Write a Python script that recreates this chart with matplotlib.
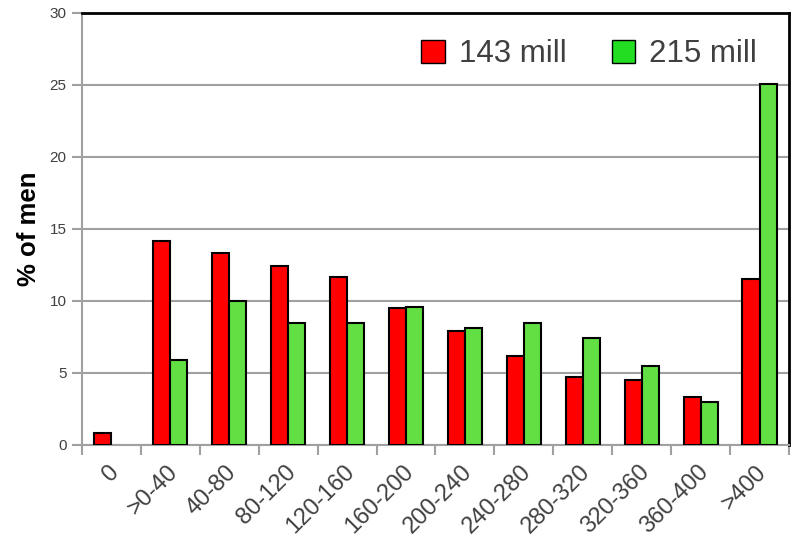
import matplotlib
matplotlib.use("Agg")
import matplotlib.pyplot as plt
import matplotlib.transforms as mtransforms
import numpy as np
from matplotlib.patches import Patch

plt.rcParams['font.family'] = ['Liberation Sans', 'DejaVu Sans']

categories = ["0", ">0-40", "40-80", "80-120", "120-160", "160-200",
              "200-240", "240-280", "280-320", "320-360", "360-400", ">400"]
series_143 = [0.8, 14.2, 13.3, 12.4, 11.7, 9.5, 7.9, 6.2, 4.7, 4.5, 3.3, 11.5]
series_215 = [0.0, 5.9, 10.0, 8.5, 8.5, 9.6, 8.1, 8.5, 7.4, 5.5, 3.0, 25.1]
y_ticks = [0, 5, 10, 15, 20, 25, 30]

text_gray = "#404040"
grid_gray = "#A0A0A0"

fig = plt.figure(figsize=(7.96, 5.39), dpi=100)
ax = fig.add_axes([82 / 796, 1 - 445 / 539, (789 - 82) / 796, (445 - 13) / 539])

x = np.arange(len(categories))
w = 0.29
v143 = np.array(series_143)
v215 = np.array(series_215)
m143 = v143 > 0
m215 = v215 > 0
ax.bar(x[m143] - w / 2, v143[m143], width=w, color="#FF0000", edgecolor="black",
       linewidth=1.5, zorder=3)
ax.bar(x[m215] + w / 2, v215[m215], width=w, color="#62DF42", edgecolor="black",
       linewidth=1.5, zorder=3)

ax.set_xlim(-0.5, len(categories) - 0.5)
ax.set_ylim(0, 30)
ax.set_yticks(y_ticks)
ax.set_yticklabels([str(t) for t in y_ticks], fontsize=11, color=text_gray)
ax.yaxis.grid(True, color=grid_gray, linewidth=1.5, zorder=0)
ax.set_axisbelow(True)

# ticks at category boundaries; category names drawn under each group
ax.set_xticks(np.arange(-0.5, len(categories) + 0.5, 1))
ax.set_xticklabels([])
ax.tick_params(axis="x", which="major", length=7, width=1.5, color=grid_gray)
ax.tick_params(axis="y", length=7, width=1.5, color=grid_gray, pad=4)

label_tf = ax.get_xaxis_transform() + mtransforms.ScaledTranslation(
    4 / 100, -24 / 100, fig.dpi_scale_trans)
for xi, name in zip(x, categories):
    ax.text(xi, 0, name, transform=label_tf, rotation=45, ha="right",
            va="center", rotation_mode="anchor", fontsize=17,
            color=text_gray, clip_on=False)

for side in ("left", "bottom"):
    ax.spines[side].set_color(grid_gray)
    ax.spines[side].set_linewidth(1.5)
for side in ("top", "right"):
    ax.spines[side].set_color("black")
    ax.spines[side].set_linewidth(2)

ax.set_ylabel("% of men", fontsize=18.5, fontweight="bold", color="black",
              labelpad=6)

handles = [Patch(facecolor="#FF0000", edgecolor="black", linewidth=1),
           Patch(facecolor="#22DD22", edgecolor="black", linewidth=1)]
leg = ax.legend(handles, ["143 mill", "215 mill"], loc="upper right",
                bbox_to_anchor=(0.995, 1.005), ncol=2, frameon=False,
                fontsize=22.5, handlelength=0.75, handleheight=0.75,
                handletextpad=0.45, columnspacing=1.45)
for t in leg.get_texts():
    t.set_color(text_gray)

fig.savefig("out.png", dpi=100)
